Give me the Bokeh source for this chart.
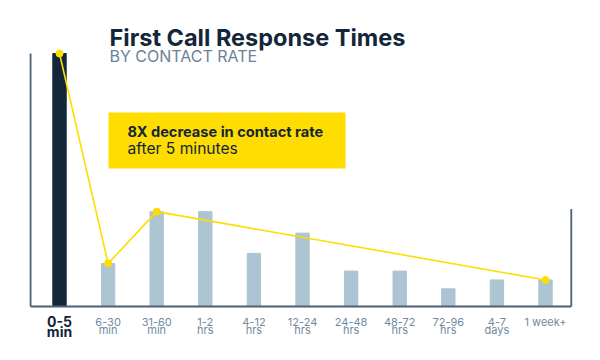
from bokeh.plotting import figure
from bokeh.models import ColumnDataSource, BoxAnnotation
from bokeh.core.properties import value
from bokeh.embed import file_html
from bokeh.resources import INLINE

# ---- data ----
categories = ["0-5 min", "6-30 min", "31-60 min", "1-2 hrs", "4-12 hrs", "12-24 hrs",
              "24-48 hrs", "48-72 hrs", "72-96 hrs", "4-7 days", "1 week+"]
label_top = ["0-5", "6-30", "31-60", "1-2", "4-12", "12-24", "24-48", "48-72", "72-96", "4-7", "1 week+"]
label_bottom = ["min", "min", "min", "hrs", "hrs", "hrs", "hrs", "hrs", "hrs", "days", ""]
contact_rate = [100, 17, 37.5, 37.5, 21, 29, 14, 14, 7, 10.5, 10.5]
trend_idx = [0, 1, 2, 10]

# ---- styles ----
NAVY = "#14263a"
LIGHT = "#adc4d3"
GREY = "#6b8298"
TICK = "#728aa0"
AXIS = "#4f6072"
YELLOW = "#ffdd00"
FONT = "Inter"
DY = 2.0  # baseline correction for svg text

idx = list(range(len(categories)))
colors = [NAVY] + [LIGHT] * (len(categories) - 1)

p = figure(width=584, height=344, output_backend="svg", toolbar_location=None,
           x_range=(-1.214, 10.802), y_range=(-15.02, 120.95),
           x_axis_type=None, y_axis_type=None, min_border=0)
p.outline_line_color = None
p.background_fill_color = "white"
p.border_fill_color = "white"

src = ColumnDataSource(dict(x=idx, v=contact_rate, c=colors, cat=categories,
                            t=label_top, b=label_bottom))

# bars
p.vbar(x="x", top="v", bottom=0, width=0.275, color="c", source=src)

# axis frame lines
x_left, x_right = -0.595, 10.53
p.segment(x0=[x_left, x_left, x_right], y0=[0, 0, 0],
          x1=[x_left, x_right, x_right], y1=[max(contact_rate), 0, 38.5],
          line_color=AXIS, line_width=1.8)

# trend line
tx = [idx[i] for i in trend_idx]
ty = [contact_rate[i] for i in trend_idx]
p.line(tx, ty, line_color=YELLOW, line_width=1.6)
p.scatter(tx, ty, size=7, color=YELLOW)

# callout box
p.add_layout(BoxAnnotation(left=1.008, right=5.885, bottom=54.5, top=76.7,
                           fill_color=YELLOW, fill_alpha=1.0, line_color=None, level="underlay"))
p.text(x=[1.40], y=[66.9 + DY], text=["8X decrease in contact rate"], text_font=value(FONT),
       text_font_size="14.6px", text_font_style="bold", text_color=NAVY, text_baseline="alphabetic")
p.text(x=[1.40], y=[60.4 + DY], text=["after 5 minutes"], text_font=value(FONT),
       text_font_size="15.6px", text_color=NAVY, text_baseline="alphabetic")

# titles
p.text(x=[1.029], y=[104.2 + DY], text=["First Call Response Times"], text_font=value(FONT),
       text_font_size="23.5px", text_font_style="bold", text_color=NAVY, text_baseline="alphabetic")
p.text(x=[1.029], y=[97.0 + DY], text=["BY CONTACT RATE"], text_font=value(FONT),
       text_font_size="16px", text_color=GREY, text_baseline="alphabetic")

# tick labels
first = ColumnDataSource(dict(x=idx[:1], t=label_top[:1], b=label_bottom[:1]))
rest = ColumnDataSource(dict(x=idx[1:], t=label_top[1:], b=label_bottom[1:]))
p.text(x="x", y=-6.0, text="t", source=first, text_font=value(FONT), text_font_size="14px",
       text_font_style="bold", text_color=NAVY, text_align="center", text_baseline="alphabetic")
p.text(x="x", y=-9.9, text="b", source=first, text_font=value(FONT), text_font_size="14px",
       text_font_style="bold", text_color=NAVY, text_align="center", text_baseline="alphabetic")
p.text(x="x", y=-6.3, text="t", source=rest, text_font=value(FONT), text_font_size="11px",
       text_color=TICK, text_align="center", text_baseline="alphabetic")
p.text(x="x", y=-9.4, text="b", source=rest, text_font=value(FONT), text_font_size="11px",
       text_color=TICK, text_align="center", text_baseline="alphabetic")

open("out.html", "w").write(file_html(p, INLINE))
